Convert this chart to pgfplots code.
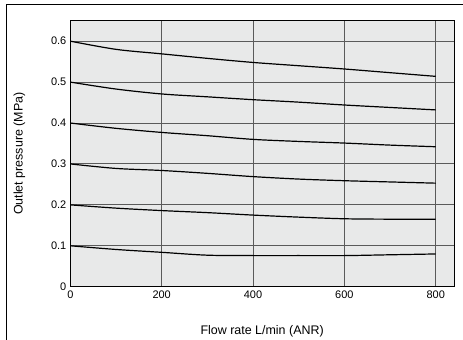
\documentclass[border=0pt]{standalone}
\usepackage{fontspec}
\setmainfont{Liberation Sans}
\usepackage{pgfplots}
\pgfplotsset{compat=1.18}
\definecolor{bgc}{HTML}{E8E9E9}
\definecolor{gridc}{HTML}{5A5A5A}
\begin{document}
\begin{tikzpicture}
\path[use as bounding box] (0,0) rectangle (463bp,340bp);
\draw[black, line width=0.8bp] (6bp,0) -- (6bp,336bp) -- (463bp,336bp);
\begin{axis}[
  scale only axis,
  width=383.7bp, height=266bp,
  at={(70.3bp,53.3bp)}, anchor=south west,
  xmin=0, xmax=840, ymin=0, ymax=0.65,
  xtick={0,200,400,600,800},
  ytick={0,0.1,0.2,0.3,0.4,0.5,0.6},
  yticklabels={0,0.1,0.2,0.3,0.4,0.5,0.6},
  xticklabels={0,200,400,600,800},
  tick style={draw=none},
  grid=major,
  major grid style={gridc, line width=0.9bp},
  axis background/.style={fill=bgc},
  axis line style={black, line width=0.9bp},
  tick label style={font=\fontsize{11}{13}\selectfont},
  xticklabel style={yshift=-0.5bp},
  yticklabel style={xshift=-0.5bp},
  xlabel={Flow rate L/min (ANR)},
  ylabel={Outlet pressure (MPa)},
  label style={font=\fontsize{12.5}{15}\selectfont},
  xlabel style={at={(axis description cs:0.5,0)}, anchor=center, yshift=-44.5bp},
  ylabel style={at={(axis description cs:0,0.5)}, anchor=center, yshift=51bp},
  clip=false,
]
\addplot[black, line width=1.2bp, smooth] coordinates {(0,0.600) (100,0.580) (200,0.569) (300,0.558) (400,0.548) (500,0.540) (600,0.532) (700,0.523) (800,0.514)};
\addplot[black, line width=1.2bp, smooth] coordinates {(0,0.500) (100,0.483) (200,0.471) (300,0.464) (400,0.457) (500,0.451) (600,0.444) (700,0.438) (800,0.432)};
\addplot[black, line width=1.2bp, smooth] coordinates {(0,0.400) (100,0.387) (200,0.377) (300,0.369) (400,0.360) (500,0.355) (600,0.351) (700,0.346) (800,0.342)};
\addplot[black, line width=1.2bp, smooth] coordinates {(0,0.300) (100,0.289) (200,0.284) (300,0.277) (400,0.269) (500,0.263) (600,0.259) (700,0.256) (800,0.253)};
\addplot[black, line width=1.2bp, smooth] coordinates {(0,0.200) (100,0.192) (200,0.186) (300,0.181) (400,0.175) (500,0.170) (600,0.166) (700,0.165) (800,0.165)};
\addplot[black, line width=1.2bp, smooth] coordinates {(0,0.100) (100,0.091) (200,0.084) (300,0.077) (400,0.076) (500,0.076) (600,0.076) (700,0.078) (800,0.080)};
\end{axis}
\end{tikzpicture}
\end{document}
